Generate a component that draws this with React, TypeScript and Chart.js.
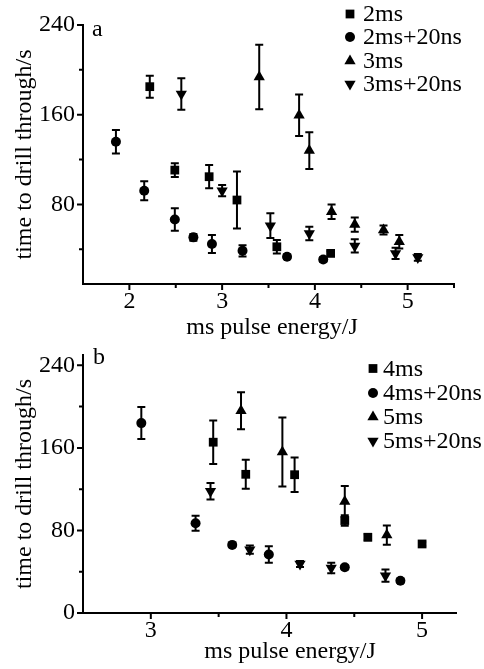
import { useEffect, useRef } from "react";
import { Chart, registerables } from "chart.js";

Chart.register(...registerables);

const FONT_FAMILY = '"Liberation Serif", "Times New Roman", serif';
const FONT_SIZE = 24;

// ---------- Panel a ----------
const aLabels = ["2ms", "2ms+20ns", "3ms", "3ms+20ns"];
const a2msX = [2.22, 2.49, 2.86, 3.16, 3.59, 4.17];
const a2msY = [185, 110.6, 104.7, 83.9, 42.2, 36.3];
const a2msErr = [9.8, 6.2, 10.4, 25.5, 6, 2];

const a2ms20X = [1.855, 2.16, 2.49, 2.69, 2.89, 3.22, 3.7, 4.09];
const a2ms20Y = [135.9, 92.2, 66.6, 50.6, 44.6, 38.6, 33.3, 30.9];
const a2ms20Err = [10.4, 8.5, 10, 3, 8, 5, 2, 2];

const a3msX = [3.4, 3.83, 3.94, 4.18, 4.43, 4.74, 4.91];
const a3msY = [193.6, 159.5, 128, 73.4, 62, 57.1, 46.7];
const a3msErr = [28.7, 18.6, 16.4, 6.4, 6.4, 4, 6];

const a3ms20X = [2.56, 3.0, 3.52, 3.94, 4.43, 4.87, 5.11];
const a3ms20Y = [178.5, 92.2, 61, 54.1, 43, 36.3, 32.7];
const a3ms20Err = [14, 5, 11, 6, 6, 5, 3];

const aXTicks = [2, 3, 4, 5];
const aXMinor = [2.5, 3.5, 4.5, 5.5];
const aYTicks = [80, 160, 240];
const aYMinor = [40, 120, 200];

// ---------- Panel b ----------
const bLabels = ["4ms", "4ms+20ns", "5ms", "5ms+20ns"];
const b4msX = [3.46, 3.7, 4.06, 4.43, 4.6, 5.0];
const b4msY = [165.5, 134.4, 134, 89.6, 73.4, 66.9];
const b4msErr = [21, 14, 16.7, 5, 3, 2];

const b4ms20X = [2.93, 3.33, 3.6, 3.87, 4.43, 4.84];
const b4ms20Y = [184, 86.9, 66, 56.6, 44.3, 31.3];
const b4ms20Err = [15.5, 7.3, 2, 8, 2, 2];

const b5msX = [3.665, 3.97, 4.43, 4.74];
const b5msY = [196, 156, 108, 75.5];
const b5msErr = [18, 33.5, 15, 9.4];

const b5ms20X = [3.44, 3.73, 4.1, 4.33, 4.73];
const b5ms20Y = [118, 61.4, 47.5, 43.6, 36.2];
const b5ms20Err = [8, 4, 3, 5, 6];

const bXTicks = [3, 4, 5];
const bXMinor = [3.5, 4.5];
const bYTicks = [0, 80, 160, 240];
const bYMinor = [40, 120, 200];

const yTitle = "time to drill through/s";
const xTitle = "ms pulse energy/J";

type Marker = { style: string; rotation: number; radius: number };
const markers: Marker[] = [
  { style: "rect", rotation: 0, radius: 6.2 },
  { style: "circle", rotation: 0, radius: 5 },
  { style: "triangle", rotation: 0, radius: 6.5 },
  { style: "triangle", rotation: 180, radius: 6.5 },
];

function drawMarker(ctx: CanvasRenderingContext2D, m: Marker, x: number, y: number) {
  ctx.save();
  ctx.fillStyle = "#000";
  ctx.beginPath();
  const r = m.radius;
  if (m.style === "rect") {
    const s = r * Math.SQRT1_2;
    ctx.rect(x - s, y - s, 2 * s, 2 * s);
  } else if (m.style === "circle") {
    ctx.arc(x, y, r, 0, Math.PI * 2);
  } else {
    const dir = m.rotation === 180 ? -1 : 1;
    ctx.moveTo(x, y - dir * r);
    ctx.lineTo(x + 0.866 * r, y + dir * 0.5 * r);
    ctx.lineTo(x - 0.866 * r, y + dir * 0.5 * r);
    ctx.closePath();
  }
  ctx.fill();
  ctx.restore();
}

type PanelCfg = {
  height: number;
  padTop: number;
  padRight: number;
  xMin: number;
  xMax: number;
  yMin: number;
  yMax: number;
  xTicks: number[];
  xMinor: number[];
  yTicks: number[];
  yMinor: number[];
  series: { label: string; xs: number[]; ys: number[]; errs: number[] }[];
  letter: string;
  letterX: number;
  letterY: number;
  legendMarkerX: number;
  legendTextX: number;
  legendRows: number[];
  xTitleX: number;
  xTitleY: number;
};

const panelA: PanelCfg = {
  height: 340,
  padTop: 25,
  padRight: 30,
  xMin: 1.5,
  xMax: 5.5,
  yMin: 9,
  yMax: 240,
  xTicks: aXTicks,
  xMinor: aXMinor,
  yTicks: aYTicks,
  yMinor: aYMinor,
  series: [
    { label: aLabels[0], xs: a2msX, ys: a2msY, errs: a2msErr },
    { label: aLabels[1], xs: a2ms20X, ys: a2ms20Y, errs: a2ms20Err },
    { label: aLabels[2], xs: a3msX, ys: a3msY, errs: a3msErr },
    { label: aLabels[3], xs: a3ms20X, ys: a3ms20Y, errs: a3ms20Err },
  ],
  letter: "a",
  letterX: 92,
  letterY: 36,
  legendMarkerX: 350,
  legendTextX: 363,
  legendRows: [14, 37, 61, 84],
  xTitleX: 272,
  xTitleY: 334,
};

const panelB: PanelCfg = {
  height: 329,
  padTop: 15,
  padRight: 28,
  xMin: 2.5,
  xMax: 5.25,
  yMin: 0,
  yMax: 250,
  xTicks: bXTicks,
  xMinor: bXMinor,
  yTicks: bYTicks,
  yMinor: bYMinor,
  series: [
    { label: bLabels[0], xs: b4msX, ys: b4msY, errs: b4msErr },
    { label: bLabels[1], xs: b4ms20X, ys: b4ms20Y, errs: b4ms20Err },
    { label: bLabels[2], xs: b5msX, ys: b5msY, errs: b5msErr },
    { label: bLabels[3], xs: b5ms20X, ys: b5ms20Y, errs: b5ms20Err },
  ],
  letter: "b",
  letterX: 93,
  letterY: 24,
  legendMarkerX: 373,
  legendTextX: 383,
  legendRows: [28.5, 53, 77, 101],
  xTitleX: 290,
  xTitleY: 318,
};

function buildChart(canvas: HTMLCanvasElement, cfg: PanelCfg) {
  const font = { family: FONT_FAMILY, size: FONT_SIZE };
  const decoPlugin = {
    id: "deco",
    beforeDatasetsDraw(chart: any) {
      const ctx: CanvasRenderingContext2D = chart.ctx;
      const xs = chart.scales.x;
      const ys = chart.scales.y;
      ctx.save();
      ctx.strokeStyle = "#000";
      ctx.lineWidth = 2;
      chart.data.datasets.forEach((ds: any) => {
        const errs: number[] = ds.errors || [];
        ds.data.forEach((p: any, i: number) => {
          const e = errs[i];
          if (!e) return;
          const px = xs.getPixelForValue(p.x);
          const top = ys.getPixelForValue(p.y + e);
          const bot = ys.getPixelForValue(p.y - e);
          ctx.beginPath();
          ctx.moveTo(px, top);
          ctx.lineTo(px, bot);
          ctx.moveTo(px - 4, top);
          ctx.lineTo(px + 4, top);
          ctx.moveTo(px - 4, bot);
          ctx.lineTo(px + 4, bot);
          ctx.stroke();
        });
      });
      ctx.restore();
    },
    afterDraw(chart: any) {
      const ctx: CanvasRenderingContext2D = chart.ctx;
      const xs = chart.scales.x;
      const ys = chart.scales.y;
      const area = chart.chartArea;
      ctx.save();
      ctx.strokeStyle = "#000";
      ctx.lineWidth = 2;
      ctx.beginPath();
      cfg.xTicks.forEach((v) => {
        const px = xs.getPixelForValue(v);
        ctx.moveTo(px, area.bottom);
        ctx.lineTo(px, area.bottom + 6);
      });
      cfg.xMinor.forEach((v) => {
        const px = xs.getPixelForValue(v);
        ctx.moveTo(px, area.bottom);
        ctx.lineTo(px, area.bottom + 4);
      });
      cfg.yTicks.forEach((v) => {
        const py = ys.getPixelForValue(v);
        ctx.moveTo(area.left, py);
        ctx.lineTo(area.left - 6, py);
      });
      cfg.yMinor.forEach((v) => {
        const py = ys.getPixelForValue(v);
        ctx.moveTo(area.left, py);
        ctx.lineTo(area.left - 4, py);
      });
      ctx.stroke();

      ctx.fillStyle = "#000";
      ctx.font = `${FONT_SIZE}px ${FONT_FAMILY}`;
      // panel letter
      ctx.textAlign = "left";
      ctx.textBaseline = "alphabetic";
      ctx.fillText(cfg.letter, cfg.letterX, cfg.letterY);
      // legend
      ctx.textBaseline = "middle";
      cfg.series.forEach((s, i) => {
        const y = cfg.legendRows[i];
        drawMarker(ctx, markers[i], cfg.legendMarkerX, y);
        ctx.fillStyle = "#000";
        ctx.fillText(s.label, cfg.legendTextX, y + 1);
      });
      // x title
      ctx.textAlign = "center";
      ctx.textBaseline = "alphabetic";
      ctx.fillText(xTitle, cfg.xTitleX, cfg.xTitleY);
      // y title
      ctx.save();
      ctx.translate(31, (area.top + area.bottom) / 2);
      ctx.rotate(-Math.PI / 2);
      ctx.textAlign = "center";
      ctx.textBaseline = "alphabetic";
      ctx.fillText(yTitle, 0, 0);
      ctx.restore();
      ctx.restore();
    },
  };

  const datasets = cfg.series.map((s, i) => ({
    label: s.label,
    data: s.xs.map((x, j) => ({ x, y: s.ys[j] })),
    errors: s.errs,
    pointStyle: markers[i].style,
    rotation: markers[i].rotation,
    pointRadius: markers[i].radius,
    pointHoverRadius: markers[i].radius,
    pointBorderWidth: 0,
    backgroundColor: "#000",
    borderColor: "#000",
    showLine: false,
  }));

  const zeroPad = (s: any) => {
    s.paddingTop = 0;
    s.paddingBottom = 0;
    s.paddingLeft = 0;
    s.paddingRight = 0;
  };

  return new Chart(canvas, {
    type: "scatter",
    data: { datasets: datasets as any },
    plugins: [decoPlugin],
    options: {
      responsive: false,
      animation: false,
      devicePixelRatio: 1,
      layout: { padding: { top: cfg.padTop, right: cfg.padRight, left: 0, bottom: 0 } },
      plugins: { legend: { display: false }, tooltip: { enabled: false }, title: { display: false } },
      scales: {
        x: {
          type: "linear",
          min: cfg.xMin,
          max: cfg.xMax,
          afterBuildTicks: (s: any) => {
            s.ticks = cfg.xTicks.map((v) => ({ value: v }));
          },
          afterFit: (s: any) => {
            s.height = cfg.height - (cfg.height - 56);
            zeroPad(s);
          },
          ticks: { font, color: "#000", padding: 3, maxRotation: 0, autoSkip: false },
          grid: { display: false, drawTicks: false },
          border: { display: true, color: "#000", width: 2 },
        },
        y: {
          type: "linear",
          min: cfg.yMin,
          max: cfg.yMax,
          afterBuildTicks: (s: any) => {
            s.ticks = cfg.yTicks.map((v) => ({ value: v }));
          },
          afterFit: (s: any) => {
            s.width = 83;
            zeroPad(s);
          },
          ticks: { font, color: "#000", padding: 8, autoSkip: false },
          grid: { display: false, drawTicks: false },
          border: { display: true, color: "#000", width: 2 },
        },
      },
    } as any,
  });
}

function Panel({ cfg, top }: { cfg: PanelCfg; top: number }) {
  const ref = useRef<HTMLCanvasElement | null>(null);
  useEffect(() => {
    if (!ref.current) return;
    const chart = buildChart(ref.current, cfg);
    return () => chart.destroy();
  }, [cfg]);
  return (
    <canvas
      ref={ref}
      width={484}
      height={cfg.height}
      style={{ position: "absolute", left: 0, top, width: 484, height: cfg.height, display: "block" }}
    />
  );
}

export default function App() {
  return (
    <div style={{ position: "absolute", left: 0, top: 0, width: 484, height: 669, background: "#fff" }}>
      <Panel cfg={panelA} top={0} />
      <Panel cfg={panelB} top={340} />
    </div>
  );
}
